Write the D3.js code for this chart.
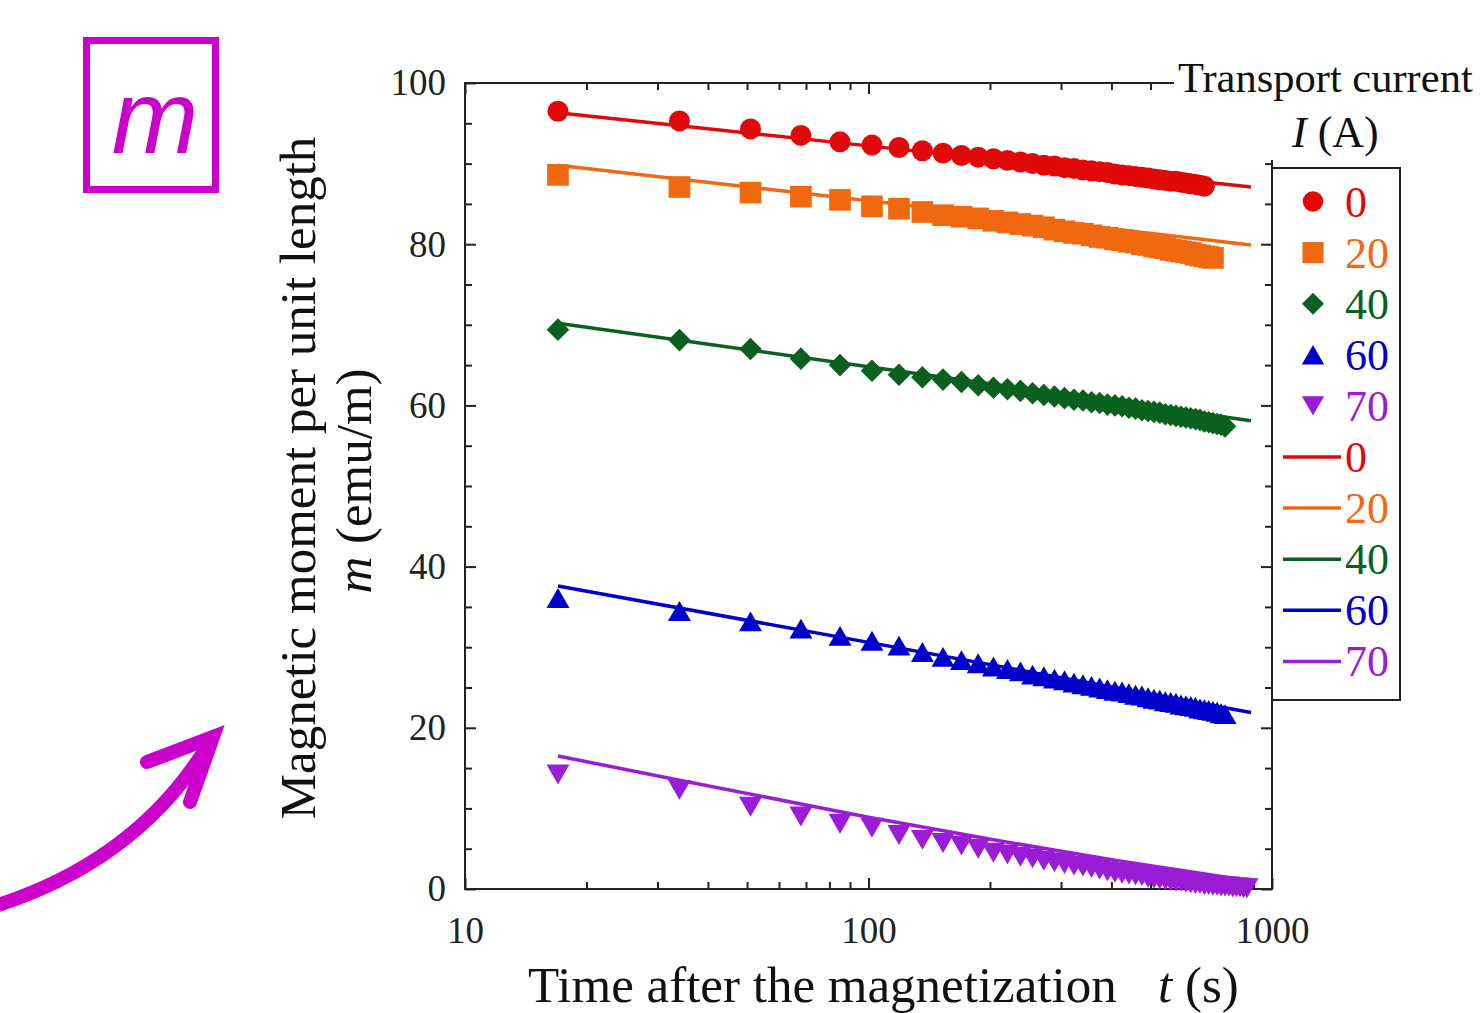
<!DOCTYPE html>
<html>
<head>
<meta charset="utf-8">
<script src="https://cdn.jsdelivr.net/npm/d3@7"></script>
<style>
  html, body { margin: 0; padding: 0; background: #fff; }
  svg { display: block; }
  text { font-family: "Liberation Serif", "Times New Roman", serif; }
</style>
</head>
<body>
<svg id="chart" width="1482" height="1013"></svg>
<script>
// Sampling times after magnetization (s)
const timesSec = [17, 34, 51, 68, 85, 102, 119, 136, 153, 170, 187, 204, 221, 238, 255, 272, 289,
  306, 323, 340, 357, 374, 391, 408, 425, 442, 459, 476, 493, 510, 527, 544, 561, 578, 595, 612,
  629, 646, 663, 680, 697, 714, 731, 748, 765, 782, 799, 816, 833, 850, 867];

// Transport current labels (A)
const currents = ["0", "20", "40", "60", "70"];

// Measured magnetic moment per unit length (emu/m)
const m0 = [96.5, 95.3, 94.3, 93.5, 92.7, 92.3, 92.0, 91.6, 91.3, 91.0, 90.8, 90.6, 90.4, 90.2,
  90.0, 89.8, 89.7, 89.5, 89.4, 89.2, 89.1, 89.0, 88.9, 88.7, 88.6, 88.5, 88.4, 88.3, 88.2, 88.1,
  88.0, 87.9, 87.8, 87.8, 87.7, 87.6, 87.5, 87.4, 87.3, 87.2];
const m20 = [88.6, 87.1, 86.4, 85.9, 85.5, 84.7, 84.4, 84.0, 83.6, 83.4, 83.2, 82.9, 82.7, 82.5,
  82.3, 82.1, 81.8, 81.6, 81.4, 81.3, 81.1, 80.9, 80.8, 80.6, 80.5, 80.3, 80.2, 80.0, 79.9, 79.7,
  79.6, 79.5, 79.3, 79.2, 79.1, 79.0, 78.9, 78.7, 78.6, 78.5, 78.4, 78.3];
const m40 = [69.4, 68.1, 67.0, 65.8, 65.0, 64.3, 63.8, 63.5, 63.2, 62.9, 62.5, 62.2, 62.0, 61.8,
  61.5, 61.3, 61.1, 60.9, 60.7, 60.6, 60.4, 60.3, 60.1, 60.0, 59.9, 59.7, 59.6, 59.4, 59.3, 59.2,
  59.1, 58.9, 58.8, 58.7, 58.6, 58.5, 58.4, 58.3, 58.2, 58.0, 57.9, 57.8, 57.7, 57.6, 57.4];
const m60 = [36.1, 34.5, 33.2, 32.3, 31.4, 30.8, 30.2, 29.4, 28.8, 28.4, 28.0, 27.6, 27.3, 27.0,
  26.6, 26.4, 26.1, 25.9, 25.6, 25.4, 25.2, 25.0, 24.8, 24.6, 24.5, 24.3, 24.1, 24.0, 23.8, 23.6,
  23.5, 23.3, 23.2, 23.1, 22.9, 22.8, 22.7, 22.6, 22.4, 22.3, 22.2, 22.1, 22.0, 21.8, 21.7];
const m70 = [14.2, 12.3, 10.2, 9.0, 8.1, 7.6, 6.7, 6.1, 5.7, 5.4, 5.0, 4.5, 4.3, 4.0, 3.8, 3.5,
  3.3, 3.1, 2.9, 2.8, 2.6, 2.4, 2.2, 2.0, 1.9, 1.8, 1.7, 1.6, 1.4, 1.3, 1.2, 1.1, 1.0, 0.9, 0.9,
  0.8, 0.7, 0.6, 0.6, 0.5, 0.5, 0.4, 0.4, 0.3, 0.3, 0.3, 0.2, 0.2, 0.2, 0.1, 0.1];

// Fitted relaxation curves
const fitTimes = [17, 100, 887];
const fit0 = [96.3, 92.2, 87.1];
const fit20 = [89.8, 85.4, 79.9];
const fit40 = [70.2, 64.8, 58.1];
const fit60 = [37.6, 30.6, 21.9];
const fitTimes70 = [17, 34, 100, 204, 415, 887];
const fit70 = [16.5, 13.5, 8.9, 6.1, 3.5, 1.0];

// Axis ticks
const yMajorTicks = [0, 20, 40, 60, 80, 100];
const yMinorTicks = [5, 10, 15, 25, 30, 35, 45, 50, 55, 65, 70, 75, 85, 90, 95];
const xMajorTicks = [10, 100, 1000];
const xMinorTicks = [20, 30, 40, 50, 60, 70, 80, 90, 200, 300, 400, 500, 600, 700, 800, 900];

const colors = ["#E00808", "#F06810", "#0A601E", "#0000CC", "#9B1CD6"];
const accent = "#CC00CC";
const serif = '"Liberation Serif", "Times New Roman", serif';

// Triangles centred on their bounding box
const triUp = {
  draw(ctx, size) {
    const w = Math.sqrt(size * 4 / Math.sqrt(3)), h = w * Math.sqrt(3) / 2;
    ctx.moveTo(0, -h / 2); ctx.lineTo(w / 2, h / 2); ctx.lineTo(-w / 2, h / 2); ctx.closePath();
  }
};
const triDown = {
  draw(ctx, size) {
    const w = Math.sqrt(size * 4 / Math.sqrt(3)), h = w * Math.sqrt(3) / 2;
    ctx.moveTo(0, h / 2); ctx.lineTo(w / 2, -h / 2); ctx.lineTo(-w / 2, -h / 2); ctx.closePath();
  }
};

const shapes = [
  { type: d3.symbolCircle, size: 346, rot: 0 },
  { type: d3.symbolSquare, size: 470, rot: 0 },
  { type: d3.symbolSquare, size: 255, rot: 45 },
  { type: triUp, size: 229, rot: 0 },
  { type: triDown, size: 229, rot: 0 }
];

const series = [
  { label: currents[0], color: colors[0], values: m0, fitT: fitTimes, fitV: fit0, shape: shapes[0] },
  { label: currents[1], color: colors[1], values: m20, fitT: fitTimes, fitV: fit20, shape: shapes[1] },
  { label: currents[2], color: colors[2], values: m40, fitT: fitTimes, fitV: fit40, shape: shapes[2] },
  { label: currents[3], color: colors[3], values: m60, fitT: fitTimes, fitV: fit60, shape: shapes[3] },
  { label: currents[4], color: colors[4], values: m70, fitT: fitTimes70, fitV: fit70, shape: shapes[4] }
];

const svg = d3.select("#chart");

const x = d3.scaleLog().domain([10, 1000]).range([465, 1272]);
const y = d3.scaleLinear().domain([0, 100]).range([889, 83]);

function styleAxis(g, fontSize) {
  g.attr("color", "#222").attr("font-family", serif).attr("font-size", fontSize);
  g.select(".domain").remove();
  g.selectAll(".tick line").attr("stroke-width", 2);
}

// Frame
svg.append("rect")
  .attr("x", x.range()[0]).attr("y", y.range()[1])
  .attr("width", x.range()[1] - x.range()[0]).attr("height", y.range()[0] - y.range()[1])
  .attr("fill", "none").attr("stroke", "#222").attr("stroke-width", 2);

// Left axis
svg.append("g").attr("transform", `translate(${x.range()[0]},0)`)
  .call(d3.axisLeft(y).tickValues(yMajorTicks).tickSizeInner(-11).tickSizeOuter(0)
    .tickPadding(19).tickFormat(d3.format("d")))
  .call(g => styleAxis(g, 37));
svg.append("g").attr("transform", `translate(${x.range()[0]},0)`)
  .call(d3.axisLeft(y).tickValues(yMinorTicks).tickSizeInner(-7).tickSizeOuter(0).tickFormat(""))
  .call(g => styleAxis(g, 37));

// Right axis
svg.append("g").attr("transform", `translate(${x.range()[1]},0)`)
  .call(d3.axisRight(y).tickValues(yMajorTicks).tickSizeInner(-11).tickSizeOuter(0).tickFormat(""))
  .call(g => styleAxis(g, 37));
svg.append("g").attr("transform", `translate(${x.range()[1]},0)`)
  .call(d3.axisRight(y).tickValues(yMinorTicks).tickSizeInner(-7).tickSizeOuter(0).tickFormat(""))
  .call(g => styleAxis(g, 37));

// Bottom axis
svg.append("g").attr("transform", `translate(0,${y.range()[0]})`)
  .call(d3.axisBottom(x).tickValues(xMajorTicks).tickSizeInner(-11).tickSizeOuter(0)
    .tickPadding(28).tickFormat(d3.format("d")))
  .call(g => styleAxis(g, 37));
svg.append("g").attr("transform", `translate(0,${y.range()[0]})`)
  .call(d3.axisBottom(x).tickValues(xMinorTicks).tickSizeInner(-7).tickSizeOuter(0).tickFormat(""))
  .call(g => styleAxis(g, 37));

// Top axis
svg.append("g").attr("transform", `translate(0,${y.range()[1]})`)
  .call(d3.axisTop(x).tickValues(xMajorTicks).tickSizeInner(-11).tickSizeOuter(0).tickFormat(""))
  .call(g => styleAxis(g, 37));
svg.append("g").attr("transform", `translate(0,${y.range()[1]})`)
  .call(d3.axisTop(x).tickValues(xMinorTicks).tickSizeInner(-7).tickSizeOuter(0).tickFormat(""))
  .call(g => styleAxis(g, 37));

// Measured points
const symbolGen = d3.symbol();
series.forEach(s => {
  svg.append("g").attr("fill", s.color)
    .selectAll("path")
    .data(s.values.map((v, i) => [timesSec[i], v]))
    .join("path")
    .attr("transform", d => `translate(${x(d[0])},${y(d[1])}) rotate(${s.shape.rot})`)
    .attr("d", symbolGen.type(s.shape.type).size(s.shape.size)());
});

// Fitted curves
const line = d3.line().x(d => x(d[0])).y(d => y(d[1]));
series.forEach(s => {
  svg.append("path")
    .datum(s.fitT.map((t, i) => [t, s.fitV[i]]))
    .attr("d", line)
    .attr("fill", "none")
    .attr("stroke", s.color)
    .attr("stroke-width", 3.5);
});

// Legend title
svg.append("rect").attr("x", 1174).attr("y", 50).attr("width", 308).attr("height", 110).attr("fill", "#fff");
svg.append("text").attr("x", 1178).attr("y", 92).attr("font-size", 42.5).attr("fill", "#111")
  .text("Transport current");
const iTitle = svg.append("text").attr("x", 1292).attr("y", 147).attr("font-size", 44).attr("fill", "#111");
iTitle.append("tspan").attr("font-style", "italic").text("I");
iTitle.append("tspan").text(" (A)");

// Legend box
svg.append("rect").attr("x", 1272).attr("y", 168).attr("width", 128).attr("height", 532)
  .attr("fill", "#fff").attr("stroke", "#222").attr("stroke-width", 2);

const rowY = i => 201.5 + i * 51.1;
const legend = svg.append("g");
series.forEach((s, i) => {
  legend.append("path")
    .attr("transform", `translate(1313,${rowY(i)}) rotate(${s.shape.rot})`)
    .attr("d", symbolGen.type(s.shape.type).size(s.shape.size * 0.95)())
    .attr("fill", s.color);
  legend.append("text").attr("x", 1345).attr("y", rowY(i) + 15)
    .attr("font-size", 44).attr("fill", s.color).text(s.label);
});
series.forEach((s, i) => {
  const yy = rowY(i + 5);
  legend.append("line").attr("x1", 1283).attr("x2", 1341).attr("y1", yy).attr("y2", yy)
    .attr("stroke", s.color).attr("stroke-width", 3.5);
  legend.append("text").attr("x", 1345).attr("y", yy + 15)
    .attr("font-size", 44).attr("fill", s.color).text(s.label);
});

// Axis titles
const xTitle = svg.append("text").attr("y", 1002).attr("font-size", 51).attr("fill", "#111");
xTitle.append("tspan").attr("x", 528).text("Time after the magnetization");
xTitle.append("tspan").attr("x", 1158).attr("font-style", "italic").text("t");
xTitle.append("tspan").text(" (s)");

svg.append("text")
  .attr("transform", "translate(315,478) rotate(-90)")
  .attr("text-anchor", "middle").attr("font-size", 51).attr("fill", "#111")
  .text("Magnetic moment per unit length");
const yTitle2 = svg.append("text")
  .attr("transform", "translate(371,481) rotate(-90)")
  .attr("text-anchor", "middle").attr("font-size", 51).attr("fill", "#111");
yTitle2.append("tspan").attr("font-style", "italic").text("m");
yTitle2.append("tspan").text(" (emu/m)");

// Quantity badge
svg.append("rect").attr("x", 86.5).attr("y", 40.5).attr("width", 129).attr("height", 149)
  .attr("fill", "none").attr("stroke", accent).attr("stroke-width", 7);
svg.append("text").attr("x", 155).attr("y", 153).attr("text-anchor", "middle")
  .attr("font-size", 104).attr("font-style", "italic").attr("fill", accent)
  .style("font-family", '"Liberation Sans", Arial, sans-serif')
  .text("m");

// Pointer arrow
svg.append("path")
  .attr("d", "M-5,906 Q140,860 211,740")
  .attr("fill", "none").attr("stroke", accent).attr("stroke-width", 14).attr("stroke-linecap", "round");
svg.append("path")
  .attr("d", "M147,762 L213,737 L190,802")
  .attr("fill", "none").attr("stroke", accent).attr("stroke-width", 14)
  .attr("stroke-linecap", "round").attr("stroke-linejoin", "miter");
</script>
</body>
</html>
